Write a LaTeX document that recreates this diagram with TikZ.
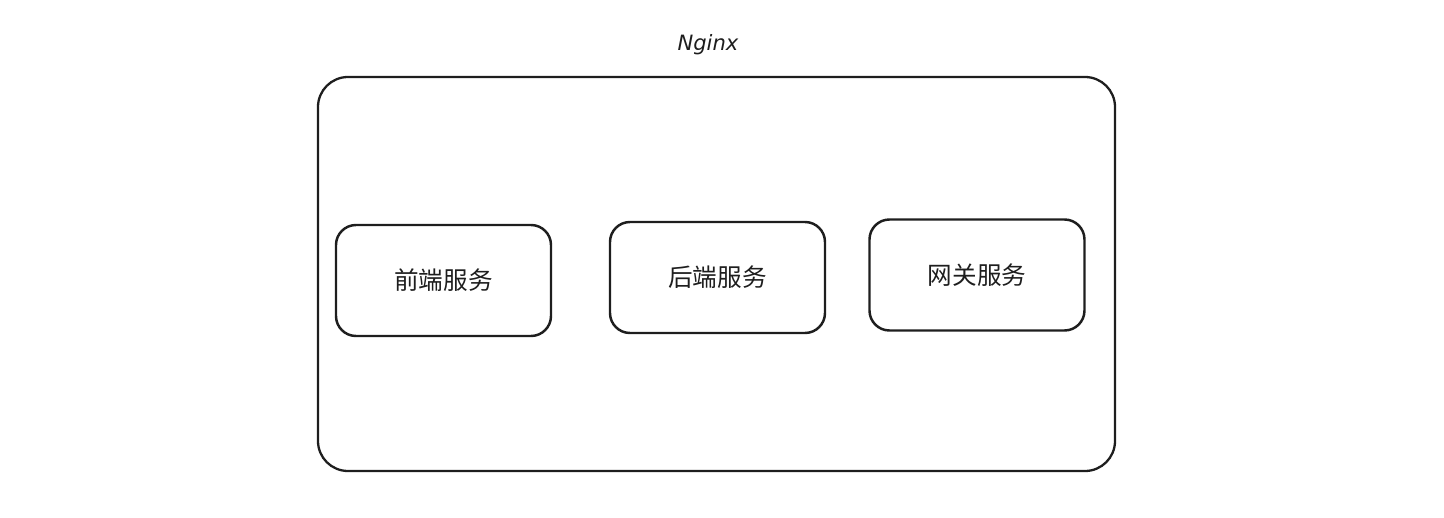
\documentclass[tikz,border=0pt]{standalone}
\usepackage{fontspec}
\newfontfamily\cjk{Noto Sans CJK SC}
\newfontfamily\hand{DejaVu Sans}
\definecolor{ink}{HTML}{1E1E1E}
\tikzset{
  svcbox/.style={draw=ink, line width=1.4pt, rounded corners=0.4cm, minimum width=4.3cm, minimum height=2.22cm, font=\cjk\fontsize{14}{16}\selectfont, text=ink},
  hostbox/.style={draw=ink, line width=1.3pt, rounded corners=0.6cm, minimum width=15.94cm, minimum height=7.88cm}
}
\begin{document}
\begin{tikzpicture}[line join=round, line cap=round]
\useasboundingbox(0,0)rectangle(28.88,-10.36);
\node[hostbox](nginx)at(14.33,-5.48){};
\node[font=\hand\itshape\fontsize{12}{14}\selectfont, text=ink](title)at(14.16,-0.9){Nginx};
% services
\node[svcbox](front)at(8.87,-5.61){前端服务};
\node[svcbox](back)at(14.35,-5.55){后端服务};
\node[svcbox](gate)at(19.54,-5.5){网关服务};
\end{tikzpicture}
\end{document}
